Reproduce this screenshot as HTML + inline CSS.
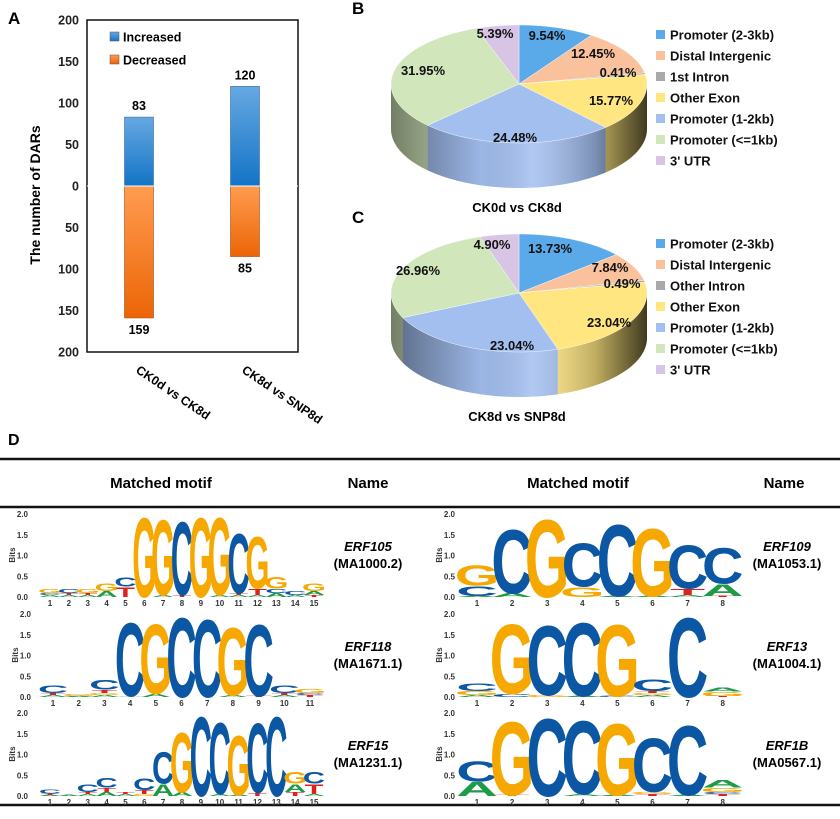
<!DOCTYPE html>
<html><head><meta charset="utf-8">
<style>
body{margin:0;background:#fff;}
svg{display:block;font-family:"Liberation Sans",Arial,sans-serif;}
.b{font-weight:bold;}
</style></head>
<body>
<svg id="fig" width="840" height="819" viewBox="0 0 840 819" xmlns="http://www.w3.org/2000/svg">
<defs>
<linearGradient id="gBlue" x1="0" y1="0" x2="0" y2="1"><stop offset="0" stop-color="#66a8e2"/><stop offset="1" stop-color="#1374c6"/></linearGradient>
<linearGradient id="gOrange" x1="0" y1="0" x2="0" y2="1"><stop offset="0" stop-color="#ff9c50"/><stop offset="1" stop-color="#ec6506"/></linearGradient>
<linearGradient id="sideShade" x1="0" y1="0" x2="1" y2="0">
<stop offset="0" stop-color="#000" stop-opacity="0.45"/>
<stop offset="0.35" stop-color="#000" stop-opacity="0.05"/>
<stop offset="0.55" stop-color="#fff" stop-opacity="0.15"/>
<stop offset="0.8" stop-color="#000" stop-opacity="0.25"/>
<stop offset="1" stop-color="#000" stop-opacity="0.75"/>
</linearGradient>
</defs>
<g id="panelA"></g>
<g id="panelB"></g>
<g id="panelC"></g>
<g id="panelD"></g>
</svg>
<script>
// ---------- Panel A data ----------
const barCategories = ["CK0d vs CK8d", "CK8d vs SNP8d"];
const increasedValues = [83, 120];
const decreasedValues = [159, 85];
const yTickLabels = [200, 150, 100, 50, 0, 50, 100, 150, 200];
const yTickValues = [200, 150, 100, 50, 0, -50, -100, -150, -200];

// ---------- Pie data ----------
const pieCategoriesB = ["Promoter (2-3kb)", "Distal Intergenic", "1st Intron", "Other Exon", "Promoter (1-2kb)", "Promoter (<=1kb)", "3' UTR"];
const pieValuesB = [9.54, 12.45, 0.41, 15.77, 24.48, 31.95, 5.39];
const pieCategoriesC = ["Promoter (2-3kb)", "Distal Intergenic", "Other Intron", "Other Exon", "Promoter (1-2kb)", "Promoter (<=1kb)", "3' UTR"];
const pieValuesC = [13.73, 7.84, 0.49, 23.04, 23.04, 26.96, 4.90];
const pieColors = ["#5aa9e8", "#f9c29c", "#a9a9a9", "#ffe680", "#a3bff0", "#d2e6bb", "#d8c4e4"];

// ---------- Motif data (stacks bottom->top, [letter, bits]) ----------
const motifERF105 = [
 [["A",.05],["C",.05],["G",.1]],[["A",.05],["T",.05],["C",.1]],[["A",.05],["T",.05],["G",.1]],
 [["A",.15],["G",.2]],[["T",.25],["C",.22]],[["G",2.0]],[["A",.05],["G",1.9]],[["T",.05],["C",1.85]],
 [["G",2.0]],[["A",.05],["G",1.95]],[["A",.05],["T",.05],["C",1.5]],[["A",.05],["T",.15],["G",1.3]],
 [["A",.1],["C",.1],["G",.3]],[["A",.05],["C",.1]],[["T",.05],["A",.1],["G",.2]]];
const motifERF118 = [
 [["A",.05],["T",.05],["C",.2]],[["A",.03],["G",.05]],[["A",.05],["G",.05],["T",.08],["C",.25]],
 [["A",.02],["C",1.85]],[["A",.08],["G",1.75]],[["C",2.0]],[["C",1.95]],[["A",.05],["G",1.7]],
 [["T",.03],["C",1.8]],[["A",.05],["T",.05],["C",.2]],[["T",.05],["C",.05],["G",.1]]];
const motifERF15 = [
 [["A",.03],["T",.03],["C",.1]],[["A",.03]],[["A",.05],["T",.05],["C",.2]],[["A",.1],["T",.1],["C",.25]],
 [["A",.05],["T",.05]],[["G",.05],["T",.1],["C",.3]],[["A",.3],["C",.8]],[["A",.1],["G",1.5]],
 [["C",2.0]],[["A",.05],["C",1.8]],[["A",.03],["G",1.5]],[["T",.08],["C",1.75]],[["C",2.0]],
 [["T",.1],["A",.2],["G",.3]],[["A",.05],["T",.25],["C",.3]]];
const motifERF109 = [
 [["A",.03],["C",.25],["G",.5]],[["A",.1],["C",1.6]],[["G",1.95]],[["G",.25],["C",1.1]],
 [["A",.03],["C",1.8]],[["A",.03],["G",1.7]],[["A",.05],["T",.15],["C",1.1]],[["T",.03],["A",.3],["C",.9]]];
const motifERF13 = [
 [["A",.05],["G",.1],["C",.2]],[["C",.08],["G",1.75]],[["G",.05],["C",1.75]],[["A",.03],["C",1.85]],
 [["C",.03],["G",1.8]],[["A",.05],["G",.05],["T",.05],["C",.3]],[["C",2.0]],[["T",.03],["G",.1],["A",.1]]];
const motifERF1B = [
 [["A",.35],["C",.5]],[["T",.03],["G",1.85]],[["C",1.95]],[["A",.05],["C",1.85]],
 [["A",.03],["G",1.8]],[["T",.05],["G",.05],["C",1.35]],[["A",.03],["C",1.75]],[["T",.05],["C",.05],["G",.1],["A",.2]]];

const NS = "http://www.w3.org/2000/svg";
function mk(parent, tag, attrs, text){
  const e = document.createElementNS(NS, tag);
  for (const k in attrs) e.setAttribute(k, attrs[k]);
  if (text !== undefined) e.textContent = text;
  parent.appendChild(e); return e;
}

// ================= Panel A =================
(function(){
  const g = document.getElementById('panelA');
  const L=87, R=298, T=20, B=352;
  const y = v => 186 - v*(166/200);
  const t = mk(g,'text',{x:8,y:24,'font-size':17,'class':'b'},'A');
   
  const ax = mk(g,'rect',{x:L,y:T,width:R-L,height:B-T,fill:'none',stroke:'#111','stroke-width':1.5});
   
  yTickValues.forEach((v,i)=>{
    const tl = mk(g,'text',{x:79,y:y(v)+4.5,'font-size':12.5,'text-anchor':'end','class':'b',fill:'#222'},String(yTickLabels[i]));
     
  });
  const yt = mk(g,'text',{x:0,y:0,'font-size':14,'text-anchor':'middle','class':'b',transform:'translate(40,195) rotate(-90)'},'The number of DARs');
   
  const bw = 29;
  const cx = i => 139 + i*106;
  barCategories.forEach((c,i)=>{
    const up = mk(g,'rect',{x:cx(i)-bw/2,y:y(increasedValues[i]),width:bw,height:y(0)-y(increasedValues[i]),fill:'url(#gBlue)',stroke:'#3a6d9e','stroke-width':0.6});
     
    const dn = mk(g,'rect',{x:cx(i)-bw/2,y:y(0),width:bw,height:y(-decreasedValues[i])-y(0),fill:'url(#gOrange)',stroke:'#a0501a','stroke-width':0.6});
     
    const l1 = mk(g,'text',{x:cx(i),y:y(increasedValues[i])-7,'font-size':12.5,'text-anchor':'middle','class':'b'},String(increasedValues[i]));
     
    const l2 = mk(g,'text',{x:cx(i),y:y(-decreasedValues[i])+16,'font-size':12.5,'text-anchor':'middle','class':'b'},String(decreasedValues[i]));
     
    const xl = mk(g,'text',{x:0,y:0,'font-size':12.5,'class':'b',transform:`translate(${cx(i)-4},372) rotate(34)`},c);
     
  });
  const zl = mk(g,'line',{x1:L,x2:R,y1:y(0),y2:y(0),stroke:'#fff','stroke-width':1});
   
  [["Increased","url(#gBlue)",37],["Decreased","url(#gOrange)",60]].forEach(([n,f,yy])=>{
    const s = mk(g,'rect',{x:110,y:yy-5,width:9,height:9,fill:f,stroke:'#555','stroke-width':0.5});
     
    const tt = mk(g,'text',{x:123,y:yy+4.5,'font-size':12.5,'class':'b'},n);
     
  });
})();

// ================= Pies =================
function drawPie(gid, letter, values, cats, cy, title, labelPos){
  const g = document.getElementById(gid);
  const cx=519, rx=128, ry=59, depth=45;
  const pt = (a,yy) => [cx + rx*Math.sin(a), yy - ry*Math.cos(a)];
  const lab = mk(g,'text',{x:352,y:cy-70,'font-size':17,'class':'b'},letter);
   
  const total = values.reduce((a,b)=>a+b,0);
  let acc = 0;
  const angles = values.map(v=>{const a0=acc/total*2*Math.PI; acc+=v; return [a0, acc/total*2*Math.PI];});
  angles.forEach(([a0,a1],i)=>{
    const s = Math.max(a0, Math.PI/2), e = Math.min(a1, 3*Math.PI/2);
    if (e <= s) return;
    let d=''; const n=40;
    for(let k=0;k<=n;k++){const a=s+(e-s)*k/n; const p=pt(a,cy); d+=(k?'L':'M')+p[0].toFixed(2)+','+p[1].toFixed(2);}
    for(let k=n;k>=0;k--){const a=s+(e-s)*k/n; const p=pt(a,cy+depth); d+='L'+p[0].toFixed(2)+','+p[1].toFixed(2);}
    const side = mk(g,'path',{d:d+'Z',fill:pieColors[i]});
     
  });
  {
    let d=''; const n=80;
    for(let k=0;k<=n;k++){const a=Math.PI/2+Math.PI*k/n; const p=pt(a,cy); d+=(k?'L':'M')+p[0].toFixed(2)+','+p[1].toFixed(2);}
    for(let k=n;k>=0;k--){const a=Math.PI/2+Math.PI*k/n; const p=pt(a,cy+depth); d+='L'+p[0].toFixed(2)+','+p[1].toFixed(2);}
    const sh = mk(g,'path',{d:d+'Z',fill:'url(#sideShade)'});
     
  }
  angles.forEach(([a0,a1],i)=>{
    let d=`M${cx},${cy}`; const n=Math.max(4,Math.ceil((a1-a0)*40));
    for(let k=0;k<=n;k++){const a=a0+(a1-a0)*k/n; const p=pt(a,cy); d+='L'+p[0].toFixed(2)+','+p[1].toFixed(2);}
    const w = mk(g,'path',{d:d+'Z',fill:pieColors[i],stroke:'#fff','stroke-width':0.4});
     
  });
  values.forEach((v,i)=>{
    const t = mk(g,'text',{x:labelPos[i][0],y:cy+labelPos[i][1],'font-size':13,'text-anchor':'middle','class':'b',fill:'#111'},v.toFixed(2)+'%');
     
  });
  cats.forEach((c,i)=>{
    const yy = cy-49+i*21;
    const s = mk(g,'rect',{x:656,y:yy-5,width:9,height:9,fill:pieColors[i]});
     
    const t = mk(g,'text',{x:670,y:yy+4.5,'font-size':13,'class':'b',fill:'#111'},c);
     
  });
  const tt = mk(g,'text',{x:517,y:cy+128,'font-size':13,'text-anchor':'middle','class':'b'},title);
   
}
drawPie('panelB','B',pieValuesB,pieCategoriesB,84,'CK0d vs CK8d',
  [[547,-44],[593,-26],[618,-7],[611,21],[515,58],[423,-9],[495,-46]]);
drawPie('panelC','C',pieValuesC,pieCategoriesC,293,'CK8d vs SNP8d',
  [[550,-40],[610,-21],[622,-5],[609,34],[512,57],[418,-18],[492,-44]]);

// ================= Panel D =================
const letterColor = {A:"#1f9b47",C:"#0b57a4",G:"#f6a800",T:"#e0201c"};
function drawLogo(g, stacks, x0, step, base, name, acc){
  const scale = 83/2;
  [0,0.5,1,1.5,2].forEach(v=>{
    const t = mk(g,'text',{x:x0-22,y:base-v*scale+3,'font-size':8,'text-anchor':'end','class':'b',fill:'#333'},v.toFixed(1));
     
  });
  const bt = mk(g,'text',{x:0,y:0,'font-size':8,'text-anchor':'middle','class':'b',fill:'#333',transform:`translate(${x0-35},${base-42}) rotate(-90)`},'Bits');
   
  stacks.forEach((st,i)=>{
    const cx = x0 + i*step;
    let yb = base;
    st.forEach(([ch,h])=>{
      const ph = h*scale;
      const sx = (step*0.98)/60, sy = ph/73;
      const t = mk(g,'text',{x:0,y:0,'font-size':100,'font-weight':'bold','text-anchor':'middle',fill:letterColor[ch],transform:`translate(${cx.toFixed(2)},${yb.toFixed(2)}) scale(${sx.toFixed(4)},${sy.toFixed(4)})`},ch);
       
      yb -= ph;
    });
    const n = mk(g,'text',{x:cx,y:base+9,'font-size':8,'text-anchor':'middle','class':'b',fill:'#333'},String(i+1));
     
  });
  const nx = x0 < 400 ? 368 : 787;
  const t1 = mk(g,'text',{x:nx,y:base-46,'font-size':13,'text-anchor':'middle','font-weight':'bold','font-style':'italic'},name);
   
  const t2 = mk(g,'text',{x:nx,y:base-29,'font-size':13,'text-anchor':'middle','font-weight':'bold'},'('+acc+')');
   
}
(function(){
  const g = document.getElementById('panelD');
  const d = mk(g,'text',{x:8,y:445,'font-size':16,'class':'b'},'D');
   
  [[459,2.5],[507,2.5],[805,2.5]].forEach(([yy,w])=>{
    const l = mk(g,'line',{x1:0,x2:840,y1:yy,y2:yy,stroke:'#111','stroke-width':w});
     
  });
  [["Matched motif",161],["Name",368],["Matched motif",578],["Name",784]].forEach(([s,x])=>{
    const t = mk(g,'text',{x:x,y:488,'font-size':15,'text-anchor':'middle','class':'b',style:'font-family:"Liberation Sans Narrow","Liberation Sans",sans-serif'},s);
     
  });
  drawLogo(g, motifERF105, 50, 18.86, 597, 'ERF105', 'MA1000.2');
  drawLogo(g, motifERF118, 53, 25.7, 697, 'ERF118', 'MA1671.1');
  drawLogo(g, motifERF15, 50, 18.86, 796, 'ERF15', 'MA1231.1');
  drawLogo(g, motifERF109, 477, 35.1, 597, 'ERF109', 'MA1053.1');
  drawLogo(g, motifERF13, 477, 35.1, 697, 'ERF13', 'MA1004.1');
  drawLogo(g, motifERF1B, 477, 35.1, 796, 'ERF1B', 'MA0567.1');
})();
</script>
</body></html>
